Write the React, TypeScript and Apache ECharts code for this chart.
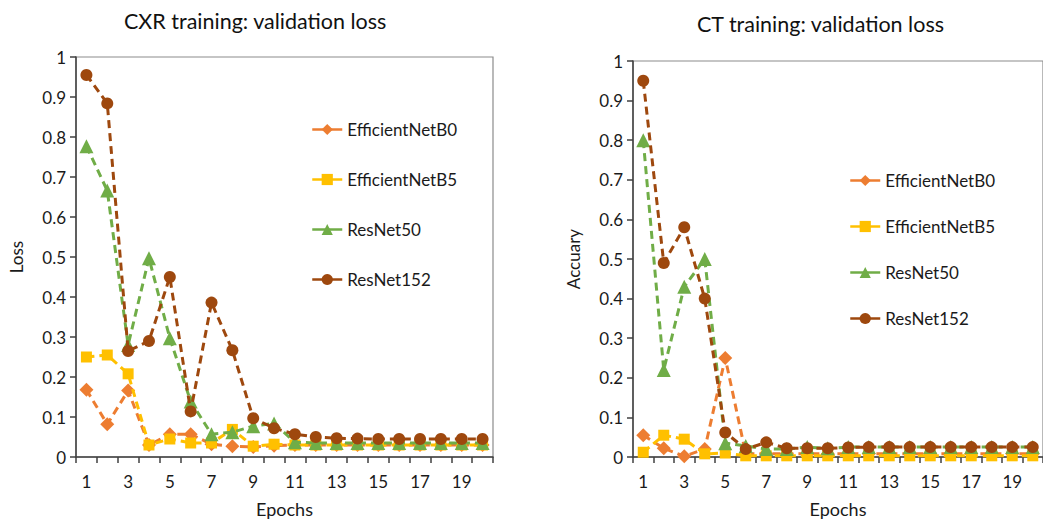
import React, { useEffect, useRef } from "react";
import * as echarts from "echarts";

const epochs = ["1","2","3","4","5","6","7","8","9","10","11","12","13","14","15","16","17","18","19","20"];
const seriesNames = ["EfficientNetB0", "EfficientNetB5", "ResNet50", "ResNet152"];
const yTicks = [0, 0.1, 0.2, 0.3, 0.4, 0.5, 0.6, 0.7, 0.8, 0.9, 1];

const cxrB0 = [0.168,0.082,0.166,0.03,0.057,0.057,0.032,0.027,0.025,0.028,0.03,0.03,0.03,0.03,0.03,0.03,0.03,0.03,0.03,0.03];
const cxrB5 = [0.25,0.255,0.208,0.03,0.045,0.035,0.035,0.069,0.027,0.032,0.03,0.03,0.03,0.03,0.03,0.03,0.03,0.03,0.03,0.03];
const cxrR50 = [0.777,0.666,0.28,0.497,0.297,0.139,0.057,0.062,0.077,0.084,0.037,0.035,0.035,0.035,0.035,0.035,0.035,0.035,0.035,0.035];
const cxrR152 = [0.955,0.884,0.265,0.29,0.45,0.114,0.386,0.267,0.097,0.072,0.057,0.05,0.047,0.046,0.045,0.045,0.045,0.045,0.045,0.045];

const ctB0 = [0.055,0.022,0.002,0.02,0.25,0.008,0.008,0.008,0.008,0.008,0.008,0.008,0.008,0.008,0.008,0.008,0.008,0.008,0.008,0.008];
const ctB5 = [0.012,0.055,0.045,0.008,0.01,0.003,0.003,0.003,0.003,0.003,0.003,0.003,0.003,0.003,0.003,0.003,0.003,0.003,0.003,0.003];
const ctR50 = [0.8,0.22,0.43,0.5,0.035,0.028,0.02,0.02,0.025,0.022,0.025,0.025,0.025,0.025,0.025,0.025,0.025,0.025,0.025,0.025];
const ctR152 = [0.95,0.49,0.58,0.4,0.062,0.02,0.037,0.022,0.022,0.022,0.024,0.025,0.025,0.025,0.025,0.025,0.025,0.025,0.025,0.025];

const colors = ["#ED7D31", "#FFC000", "#70AD47", "#9E480E"];
const symbols = ["diamond", "rect", "triangle", "circle"];
const symbolSizes = [14, 11, 14, 12];

const FONT = "Lato, 'Noto Sans', sans-serif";
const TEXT = "#1a1a1a";

export default function App() {
  const ref = useRef<HTMLDivElement>(null);
  useEffect(() => {
    if (!ref.current) return;
    const chart = echarts.init(ref.current, null, { renderer: "svg" });
    const grids = [
      { left: 76, top: 57, width: 417, height: 404 },
      { left: 633, top: 61, width: 418, height: 400 },
    ];
    const makeX = (i: number) => ({
      type: "category",
      gridIndex: i,
      data: epochs,
      boundaryGap: true,
      name: "Epochs",
      nameLocation: "middle",
      nameGap: 43,
      nameTextStyle: { color: TEXT, fontSize: 18, fontFamily: FONT },
      axisLine: { lineStyle: { color: "#404040", width: 1.5 } },
      axisTick: { show: true, interval: 0, length: 6, lineStyle: { color: "#404040", width: 1.5 } },
      axisLabel: { interval: 1, color: TEXT, fontSize: 17, fontFamily: FONT, margin: 16 },
      splitLine: { show: false },
    });
    const makeY = (i: number, name: string) => ({
      type: "value",
      gridIndex: i,
      min: 0,
      max: 1,
      interval: 0.1,
      name,
      nameLocation: "middle",
      nameGap: 51,
      nameTextStyle: { color: TEXT, fontSize: 17, fontFamily: FONT },
      axisLine: { show: true, lineStyle: { color: "#404040", width: 1.5 } },
      axisTick: { show: true, length: 6, lineStyle: { color: "#404040", width: 1.5 } },
      axisLabel: {
        color: TEXT,
        fontSize: 17,
        fontFamily: FONT,
        margin: 10,
        formatter: (v: number) => {
          const t = yTicks.find((y) => Math.abs(y - v) < 1e-6);
          return String(t !== undefined ? t : v);
        },
      },
      splitLine: { show: false },
    });
    const data = [
      [cxrB0, cxrB5, cxrR50, cxrR152],
      [ctB0, ctB5, ctR50, ctR152],
    ];
    const series: any[] = [];
    data.forEach((group, gi) => {
      group.forEach((vals, si) => {
        series.push({
          type: "line",
          name: seriesNames[si],
          xAxisIndex: gi,
          yAxisIndex: gi,
          data: vals,
          symbol: symbols[si],
          symbolSize: symbolSizes[si],
          showAllSymbol: true,
          lineStyle: { color: colors[si], width: 3, type: [8, 5] },
          itemStyle: { color: colors[si] },
          z: 2 + si,
        });
      });
    });
    const legendBase = {
      orient: "vertical",
      itemWidth: 30,
      itemHeight: 14,
      itemGap: 33,
      textStyle: { color: TEXT, fontSize: 17, fontFamily: FONT },
      lineStyle: { type: "solid", width: 2.5 },
      data: seriesNames,
      selectedMode: false,
    };
    chart.setOption({
      animation: false,
      backgroundColor: "#fff",
      grid: grids.map((g) => ({ ...g, show: true, borderColor: "#8c8c8c", borderWidth: 1.2, backgroundColor: "transparent" })),
      xAxis: [makeX(0), makeX(1)],
      yAxis: [makeY(0, "Loss"), makeY(1, "Accuary")],
      legend: [
        { ...legendBase, left: 306, top: 116 },
        { ...legendBase, left: 844, top: 167, itemGap: 29 },
      ],
      graphic: [
        { type: "text", left: 124, top: 10, style: { text: "CXR training: validation loss", fontSize: 21.5, fontFamily: FONT, fill: "#111" } },
        { type: "text", left: 697, top: 13, style: { text: "CT training: validation loss", fontSize: 21.5, fontFamily: FONT, fill: "#111" } },
      ],
      series,
    });
    return () => chart.dispose();
  }, []);
  return (
    <div
      ref={ref}
      style={{ position: "fixed", left: 0, top: 0, width: 1043, height: 523, background: "#fff" }}
    />
  );
}
